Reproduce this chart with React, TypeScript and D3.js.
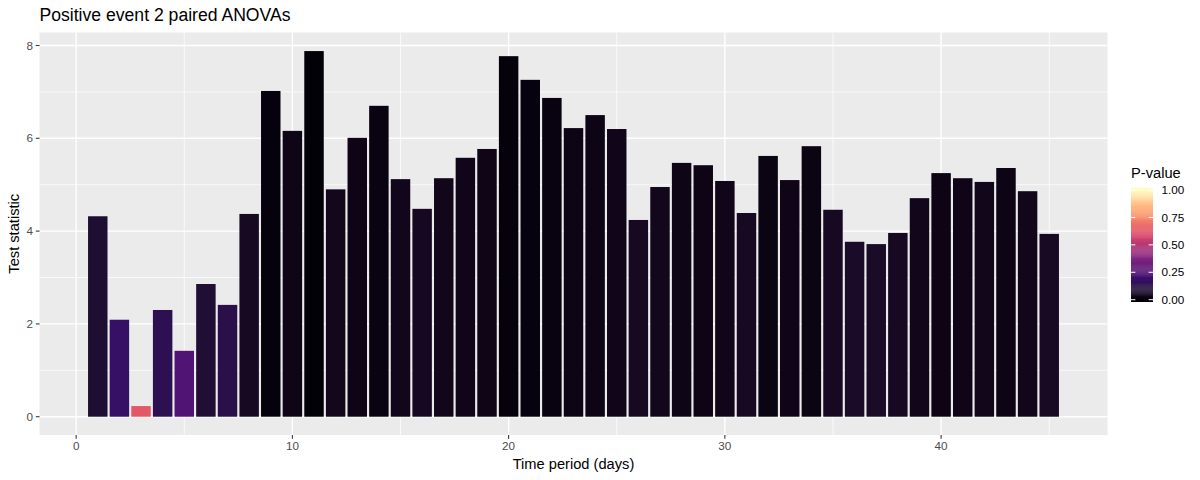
import React from 'react';
import * as d3 from 'd3';

const days = [1,2,3,4,5,6,7,8,9,10,11,12,13,14,15,16,17,18,19,20,21,22,23,24,25,26,27,28,29,30,31,32,33,34,35,36,37,38,39,40,41,42,43,44,45];
const testStat = [4.32,2.09,0.23,2.30,1.42,2.86,2.41,4.37,7.02,6.16,7.88,4.90,6.01,6.70,5.12,4.48,5.14,5.58,5.77,7.77,7.26,6.87,6.22,6.50,6.20,4.24,4.95,5.47,5.42,5.08,4.39,5.62,5.10,5.83,4.46,3.77,3.72,3.96,4.71,5.25,5.14,5.06,5.36,4.86,3.94];
const pValue = [0.082,0.18,0.63,0.144,0.245,0.09,0.13,0.052,0.011,0.026,0.004,0.039,0.0245,0.017,0.035,0.047,0.034,0.032,0.028,0.009,0.013,0.016,0.024,0.024,0.032,0.049,0.038,0.026,0.025,0.032,0.049,0.02,0.028,0.02,0.049,0.064,0.063,0.053,0.035,0.025,0.03,0.034,0.024,0.035,0.054];
const xTicks = [0,10,20,30,40];
const xMinor = [5,15,25,35,45];
const yTicks = [0,2,4,6,8];
const yMinor = [1,3,5,7];
const legendTicks = [0,0.25,0.5,0.75,1];
const magma6 = ['#000004','#3B0F70','#8C2981','#DE4968','#FE9F6D','#FCFDBF'];

const FONT = '"Liberation Sans", Arial, Helvetica, sans-serif';

export default function App() {
  const left = 39.5, right = 1107.5, top = 32.5, bottom = 435;
  const x = d3.scaleLinear().domain([-1.695, 47.695]).range([left, right]);
  const y = d3.scaleLinear().domain([-0.394, 8.28]).range([bottom, top]);
  const color = d3.scaleLinear<string>()
    .domain([0, 0.2, 0.4, 0.6, 0.8, 1])
    .range(magma6)
    .interpolate(d3.interpolateLab);
  const barW = x(0.9) - x(0);

  // legend
  const lgX0 = 1131, lgX1 = 1153, lgTop = 187.7, lgBot = 301.7;
  const lg = d3.scaleLinear().domain([0, 1]).range([299.7, 190]);
  const nbin = 120;
  const binH = (lgBot - lgTop) / nbin;
  const bins = d3.range(nbin).map(i => {
    const yy = lgTop + i * binH;
    const v = Math.max(0, Math.min(1, lg.invert(yy + binH / 2)));
    return { yy, c: color(v) };
  });

  return (
    <svg width={1200} height={480} style={{ position: 'absolute', left: 0, top: 0, background: '#fff' }} fontFamily={FONT}>
      <rect x={0} y={0} width={1200} height={480} fill="#fff" />
      <text x={39.5} y={20.7} fontSize={17.6} fill="#000">Positive event 2 paired ANOVAs</text>
      <rect x={left} y={top} width={right - left} height={bottom - top} fill="#EBEBEB" />
      {yMinor.map(v => (
        <line key={'ym' + v} x1={left} x2={right} y1={y(v)} y2={y(v)} stroke="#fff" strokeWidth={0.7} />
      ))}
      {xMinor.map(v => (
        <line key={'xm' + v} y1={top} y2={bottom} x1={x(v)} x2={x(v)} stroke="#fff" strokeWidth={0.7} />
      ))}
      {yTicks.map(v => (
        <line key={'yM' + v} x1={left} x2={right} y1={y(v)} y2={y(v)} stroke="#fff" strokeWidth={1.4} />
      ))}
      {xTicks.map(v => (
        <line key={'xM' + v} y1={top} y2={bottom} x1={x(v)} x2={x(v)} stroke="#fff" strokeWidth={1.4} />
      ))}
      {days.map((d, i) => (
        <rect key={'b' + d} x={x(d - 0.45)} width={barW} y={y(testStat[i])} height={y(0) - y(testStat[i])} fill={color(pValue[i])} />
      ))}
      {/* y axis */}
      {yTicks.map(v => (
        <g key={'yt' + v}>
          <line x1={left - 3.67} x2={left} y1={y(v)} y2={y(v)} stroke="#333" strokeWidth={1.07} />
          <text x={left - 3.67 - 2.9} y={y(v)} dy="0.35em" textAnchor="end" fontSize={11.7} fill="#4D4D4D">{v}</text>
        </g>
      ))}
      {xTicks.map(v => (
        <g key={'xt' + v}>
          <line x1={x(v)} x2={x(v)} y1={bottom} y2={bottom + 3.67} stroke="#333" strokeWidth={1.07} />
          <text x={x(v)} y={450.3} textAnchor="middle" fontSize={11.7} fill="#4D4D4D">{v}</text>
        </g>
      ))}
      <text x={(left + right) / 2} y={469} textAnchor="middle" fontSize={14.67} fill="#000">Time period (days)</text>
      <text transform={`translate(18.5, ${(top + bottom) / 2}) rotate(-90)`} textAnchor="middle" fontSize={14.67} fill="#000">Test statistic</text>
      {/* legend */}
      <text x={lgX0} y={177.5} fontSize={14.67} fill="#000">P-value</text>
      {bins.map((b, i) => (
        <rect key={'lg' + i} x={lgX0} y={b.yy} width={lgX1 - lgX0} height={binH + 0.3} fill={b.c} />
      ))}
      {legendTicks.map(v => (
        <g key={'lt' + v}>
          <line x1={lgX0} x2={lgX0 + 4.4} y1={lg(v)} y2={lg(v)} stroke="#fff" strokeWidth={1} />
          <line x1={lgX1 - 4.4} x2={lgX1} y1={lg(v)} y2={lg(v)} stroke="#fff" strokeWidth={1} />
          <text x={1161.5} y={lg(v)} dy="0.35em" fontSize={11.7} fill="#000">{v.toFixed(2)}</text>
        </g>
      ))}
    </svg>
  );
}
